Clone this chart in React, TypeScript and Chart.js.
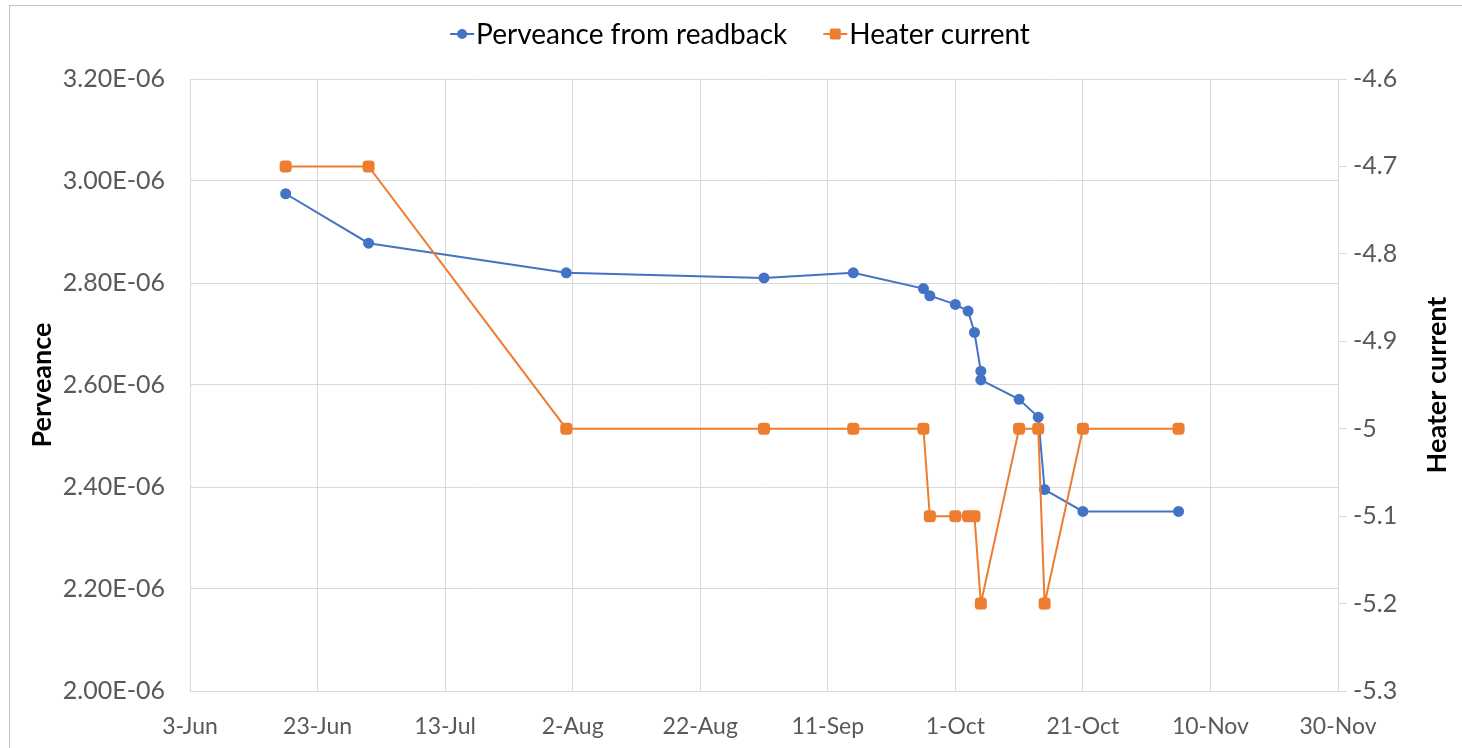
import { useEffect, useRef } from "react";
import { Chart, registerables } from "chart.js";

Chart.register(...registerables);

// ---- data ----
const START_DATE = "2019-06-03";
const X_TICK_STEP_DAYS = 20;
const X_RANGE_DAYS = 180;
const MONTHS = ["Jan", "Feb", "Mar", "Apr", "May", "Jun", "Jul", "Aug", "Sep", "Oct", "Nov", "Dec"];

const perveanceDates = [
  "2019-06-18", "2019-07-01", "2019-08-01", "2019-09-01", "2019-09-15",
  "2019-09-26", "2019-09-27", "2019-10-01", "2019-10-03", "2019-10-04",
  "2019-10-05", "2019-10-05", "2019-10-11", "2019-10-14", "2019-10-15",
  "2019-10-21", "2019-11-05",
];
const perveanceValues = [
  2.975e-6, 2.878e-6, 2.82e-6, 2.81e-6, 2.82e-6,
  2.789e-6, 2.775e-6, 2.758e-6, 2.745e-6, 2.703e-6,
  2.627e-6, 2.61e-6, 2.572e-6, 2.537e-6, 2.395e-6,
  2.352e-6, 2.352e-6,
];

const heaterDates = [
  "2019-06-18", "2019-07-01", "2019-08-01", "2019-09-01", "2019-09-15",
  "2019-09-26", "2019-09-27", "2019-10-01", "2019-10-03", "2019-10-04",
  "2019-10-05", "2019-10-11", "2019-10-14", "2019-10-15", "2019-10-21",
  "2019-11-05",
];
const heaterValues = [
  -4.7, -4.7, -5.0, -5.0, -5.0,
  -5.0, -5.1, -5.1, -5.1, -5.1,
  -5.2, -5.0, -5.0, -5.2, -5.0,
  -5.0,
];

const PERVEANCE_LABEL = "Perveance from readback";
const HEATER_LABEL = "Heater current";
const LEFT_TITLE = "Perveance";
const RIGHT_TITLE = "Heater current";

// ---- helpers ----
const DAY_MS = 86400000;
const dayOffset = (s: string) => (Date.parse(s) - Date.parse(START_DATE)) / DAY_MS;
const formatDay = (v: number) => {
  const d = new Date(Date.parse(START_DATE) + Math.round(v) * DAY_MS);
  return `${d.getUTCDate()}-${MONTHS[d.getUTCMonth()]}`;
};
const formatSci = (v: number) => {
  const [m, e] = v.toExponential(2).split("e");
  const en = parseInt(e, 10);
  return `${m}E${en < 0 ? "-" : "+"}${String(Math.abs(en)).padStart(2, "0")}`;
};

const BLUE = "#4472C4";
const ORANGE = "#ED7D31";
const GRID = "#d9d9d9";
const FONT = "Lato, 'Open Sans', sans-serif";

const overlayPlugin = {
  id: "overlay",
  afterDraw(chart: any) {
    const ctx = chart.ctx as CanvasRenderingContext2D;
    const area = chart.chartArea;
    ctx.save();
    // legend
    ctx.font = `28px ${FONT}`;
    ctx.textBaseline = "middle";
    ctx.textAlign = "left";
    const items = [
      { label: PERVEANCE_LABEL, color: BLUE, style: "circle" },
      { label: HEATER_LABEL, color: ORANGE, style: "square" },
    ];
    const lineLen = 24;
    const gapText = 2;
    const gapItems = 36;
    const widths = items.map((it) => lineLen + gapText + ctx.measureText(it.label).width);
    const total = widths.reduce((a, b) => a + b, 0) + gapItems * (items.length - 1);
    let x = 740 - total / 2;
    const y = 34;
    items.forEach((it, i) => {
      ctx.strokeStyle = it.color;
      ctx.lineWidth = 2;
      ctx.beginPath();
      ctx.moveTo(x, y);
      ctx.lineTo(x + lineLen, y);
      ctx.stroke();
      ctx.fillStyle = it.color;
      const cx = x + lineLen / 2;
      if (it.style === "circle") {
        ctx.beginPath();
        ctx.arc(cx, y, 5, 0, Math.PI * 2);
        ctx.fill();
      } else {
        ctx.beginPath();
        (ctx as any).roundRect(cx - 5.5, y - 5.5, 11, 11, 2);
        ctx.fill();
      }
      ctx.fillStyle = "#000";
      ctx.fillText(it.label, x + lineLen + gapText, y + 1);
      x += widths[i] + gapItems;
    });
    // right axis title (reads bottom to top)
    ctx.font = `bold 27px ${FONT}`;
    ctx.fillStyle = "#000";
    ctx.textAlign = "center";
    ctx.textBaseline = "middle";
    ctx.translate(1437, (area.top + area.bottom) / 2);
    ctx.rotate(-Math.PI / 2);
    ctx.fillText(RIGHT_TITLE, 0, 0);
    ctx.restore();
  },
};

export default function App() {
  const canvasRef = useRef<HTMLCanvasElement>(null);

  useEffect(() => {
    if (!canvasRef.current) return;
    const chart = new Chart(canvasRef.current, {
      type: "line",
      data: {
        datasets: [
          {
            label: PERVEANCE_LABEL,
            data: perveanceDates.map((d, i) => ({ x: dayOffset(d), y: perveanceValues[i] })),
            borderColor: BLUE,
            backgroundColor: BLUE,
            borderWidth: 2,
            pointStyle: "circle",
            pointRadius: 5.5,
            pointBorderWidth: 0,
            yAxisID: "y",
            order: 1,
          },
          {
            label: HEATER_LABEL,
            data: heaterDates.map((d, i) => ({ x: dayOffset(d), y: heaterValues[i] })),
            borderColor: ORANGE,
            backgroundColor: ORANGE,
            borderWidth: 2,
            pointStyle: "rectRounded",
            pointRadius: 7,
            pointBorderWidth: 0,
            yAxisID: "y1",
            order: 0,
          },
        ],
      },
      options: {
        responsive: false,
        animation: false,
        layout: { padding: { top: 79, left: 0, right: 0, bottom: 0 } },
        plugins: {
          legend: { display: false },
          tooltip: { enabled: false },
        },
        scales: {
          x: {
            type: "linear",
            min: 0,
            max: X_RANGE_DAYS,
            afterFit: (s: any) => {
              s.height = 57;
            },
            ticks: {
              stepSize: X_TICK_STEP_DAYS,
              callback: (v: any) => formatDay(Number(v)),
              color: "#595959",
              font: { family: FONT, size: 23 },
              padding: 22,
              maxRotation: 0,
              autoSkip: false,
            },
            grid: { color: GRID, drawTicks: false, lineWidth: 1 },
            border: { display: true, color: GRID },
          },
          y: {
            type: "linear",
            position: "left",
            min: 2.0e-6,
            max: 3.2e-6,
            afterFit: (s: any) => {
              s.width = 190;
            },
            ticks: {
              stepSize: 0.2e-6,
              callback: (v: any) => formatSci(Number(v)),
              color: "#595959",
              font: { family: FONT, size: 25 },
              padding: 25,
            },
            grid: { color: GRID, drawTicks: false, lineWidth: 1 },
            border: { display: true, color: GRID },
            title: {
              display: true,
              text: LEFT_TITLE,
              color: "#000",
              font: { family: FONT, size: 27, weight: "bold" },
              padding: { top: 26, bottom: 0 },
            },
          },
          y1: {
            type: "linear",
            position: "right",
            min: -5.3,
            max: -4.6,
            afterFit: (s: any) => {
              s.width = 124;
            },
            ticks: {
              stepSize: 0.1,
              callback: (v: any) => String(Number(Number(v).toFixed(1))),
              color: "#595959",
              font: { family: FONT, size: 25 },
              padding: 6,
            },
            grid: {
              drawOnChartArea: false,
              drawTicks: true,
              tickLength: 9,
              color: GRID,
            },
            border: { display: true, color: GRID },
          },
        },
      },
      plugins: [overlayPlugin],
    });
    return () => chart.destroy();
  }, []);

  return (
    <div style={{ position: "absolute", left: 0, top: 0, width: 1462, height: 748, background: "#fff" }}>
      <div
        style={{
          position: "absolute",
          left: 9,
          top: 5,
          width: 1453,
          height: 743,
          boxSizing: "border-box",
          borderTop: "1.5px solid #c4c4c4",
          borderLeft: "1.5px solid #c4c4c4",
          pointerEvents: "none",
        }}
      />
      <canvas ref={canvasRef} width={1462} height={748} style={{ position: "absolute", left: 0, top: 0 }} />
    </div>
  );
}
